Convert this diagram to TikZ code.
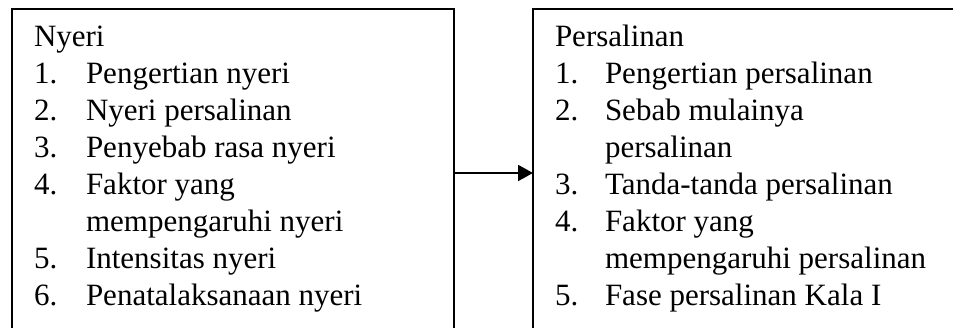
\documentclass[tikz,border=0pt]{standalone}
\usepackage{fontspec}
\setmainfont{Liberation Serif}
\usetikzlibrary{arrows.meta}
\begin{document}
\begin{tikzpicture}[x=1pt,y=-1pt,
  box/.style={draw=black, line width=2pt, rectangle, inner sep=0pt, outer sep=0pt, anchor=north west},
  txt/.style={anchor=base west, inner sep=0pt, outer sep=0pt, font=\fontsize{31}{37}\selectfont},
  link/.style={line width=2pt, -{Triangle[length=15pt,width=16pt]}}]
\clip (0,0) rectangle (953,328);
% two topic boxes, running past the lower edge
\node[box, minimum width=442pt, minimum height=360pt] (nyeri) at (12,9.5) {};
\node[box, minimum width=500pt, minimum height=360pt] (persal) at (533,9.5) {};
% left box: Nyeri
\node[txt] (n0) at (34,47) {Nyeri};
\node[txt] (n1a) at (34,84) {1.};  \node[txt] (n1b) at (86,84) {Pengertian nyeri};
\node[txt] (n2a) at (34,121) {2.}; \node[txt] (n2b) at (86,121) {Nyeri persalinan};
\node[txt] (n3a) at (34,158) {3.}; \node[txt] (n3b) at (86,158) {Penyebab rasa nyeri};
\node[txt] (n4a) at (34,195) {4.}; \node[txt] (n4b) at (86,195) {Faktor yang};
\node[txt] (n4c) at (86,232) {mempengaruhi nyeri};
\node[txt] (n5a) at (34,269) {5.}; \node[txt] (n5b) at (86,269) {Intensitas nyeri};
\node[txt] (n6a) at (34,306) {6.}; \node[txt] (n6b) at (86,306) {Penatalaksanaan nyeri};
% right box: Persalinan
\node[txt] (p0) at (555,47) {Persalinan};
\node[txt] (p1a) at (555,84) {1.};  \node[txt] (p1b) at (605,84) {Pengertian persalinan};
\node[txt] (p2a) at (555,121) {2.}; \node[txt] (p2b) at (605,121) {Sebab mulainya};
\node[txt] (p2c) at (605,158) {persalinan};
\node[txt] (p3a) at (555,195) {3.}; \node[txt] (p3b) at (605,195) {Tanda-tanda persalinan};
\node[txt] (p4a) at (555,232) {4.}; \node[txt] (p4b) at (605,232) {Faktor yang};
\node[txt] (p4c) at (605,269) {mempengaruhi persalinan};
\node[txt] (p5a) at (555,306) {5.}; \node[txt] (p5b) at (605,306) {Fase persalinan Kala I};
% connector
\coordinate (ay) at (0,173);
\draw[link] (nyeri.east |- ay) -- (persal.west |- ay);
\end{tikzpicture}
\end{document}
